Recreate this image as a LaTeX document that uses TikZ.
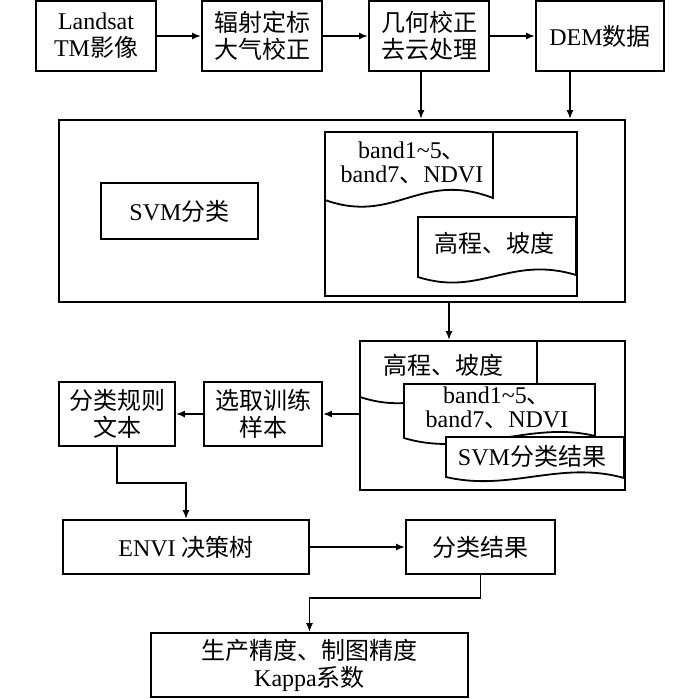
\documentclass[tikz,border=0pt]{standalone}
\usepackage{fontspec}
\setmainfont{Liberation Serif}
\newfontfamily\cjk{Noto Sans CJK SC}
\usetikzlibrary{arrows.meta}
\begin{document}
\begin{tikzpicture}[x=1pt,y=-1pt,
  txt/.style={inner sep=0pt, align=center, font=\fontsize{24pt}{27pt}\selectfont},
  dtxt/.style={inner sep=0pt, align=center, font=\fontsize{24pt}{24pt}\selectfont},
  box/.style={txt, draw, line width=1.8pt},
  arr/.style={-{Latex[length=9pt,width=7pt]}, line width=1.8pt},
  doc/.style={draw, fill=white, line width=1.8pt}]
\useasboundingbox (0,0) rectangle (700,698);

% top row
\node[box, minimum width=120pt, minimum height=70pt] (b1) at (96,36) {Landsat\\TM{\cjk 影像}};
\node[box, minimum width=120pt, minimum height=70pt] (b2) at (262,36) {\cjk 辐射定标\\\cjk 大气校正};
\node[box, minimum width=120pt, minimum height=70pt] (b3) at (429,36) {\cjk 几何校正\\\cjk 去云处理};
\node[box, minimum width=128pt, minimum height=70pt] (b4) at (600,36) {DEM{\cjk 数据}};

% first big box
\node[box, minimum width=566pt, minimum height=182pt] (o1) at (342,211) {};
\node[box, minimum width=157pt, minimum height=56pt] (svm) at (179.5,211) {SVM{\cjk 分类}};
\node[box, minimum width=252pt, minimum height=164pt] (in1) at (451,214) {};
\draw[doc] (325,132) -- (493,132) -- (493,198) .. controls (420,170) and (395,225) .. (325,200) -- cycle;
\node[dtxt] (t1) at (412,163) {band1\textasciitilde5{\cjk 、}\\band7{\cjk 、}NDVI};
\draw[doc] (418,217) -- (576,217) -- (576,275) .. controls (510,255) and (480,297) .. (418,277) -- cycle;
\node[txt] (t2) at (494,243) {\cjk 高程、坡度};

% second big box
\node[box, minimum width=265pt, minimum height=149pt] (o2) at (492.5,415.5) {};
\draw[doc] (360,341) -- (537,341) -- (537,395) .. controls (460,370) and (430,420) .. (360,397) -- cycle;
\node[txt] (t3) at (443,365) {\cjk 高程、坡度};
\draw[doc] (404,384) -- (595,384) -- (595,436) .. controls (530,420) and (470,458) .. (404,438) -- cycle;
\node[dtxt] (t4) at (497,407.5) {band1\textasciitilde5{\cjk 、}\\band7{\cjk 、}NDVI};
\draw[doc] (446,437) -- (624,437) -- (624,478) .. controls (560,460) and (510,492) .. (446,477) -- cycle;
\node[txt] (t5) at (532,456) {SVM{\cjk 分类结果}};

% lower part
\node[box, minimum width=116pt, minimum height=64pt] (rule) at (117,414) {\cjk 分类规则\\\cjk 文本};
\node[box, minimum width=118pt, minimum height=64pt] (xq) at (263,414) {\cjk 选取训练\\\cjk 样本};
\node[box, minimum width=246pt, minimum height=54pt] (envi) at (186,547) {ENVI {\cjk 决策树}};
\node[box, minimum width=149pt, minimum height=54pt] (res) at (480.5,547) {\cjk 分类结果};
\node[box, minimum width=317pt, minimum height=64pt] (acc) at (309.5,665) {\cjk 生产精度、制图精度\\Kappa{\cjk 系数}};

% connectors
\draw[arr] (b1) -- (b2);
\draw[arr] (b2) -- (b3);
\draw[arr] (b3) -- (b4);
\draw[arr] ([xshift=-8pt]b3.south) -- ([xshift=-8pt]b3.south |- o1.north);
\draw[arr] ([xshift=-30pt]b4.south) -- ([xshift=-30pt]b4.south |- o1.north);
\draw[arr] ([xshift=-2pt]in1.south |- o1.south) -- ([xshift=-2pt]in1.south |- o2.north);
\draw[arr] (o2.west |- xq.east) -- (xq.east);
\draw[arr] (xq) -- (rule);
\draw[arr] (rule.south) -- ++(0,36) -| (envi.north);
\draw[arr] (envi) -- (res);
\draw[arr] (res.south) -- ++(0,23) -| (acc.north);
\end{tikzpicture}
\end{document}
